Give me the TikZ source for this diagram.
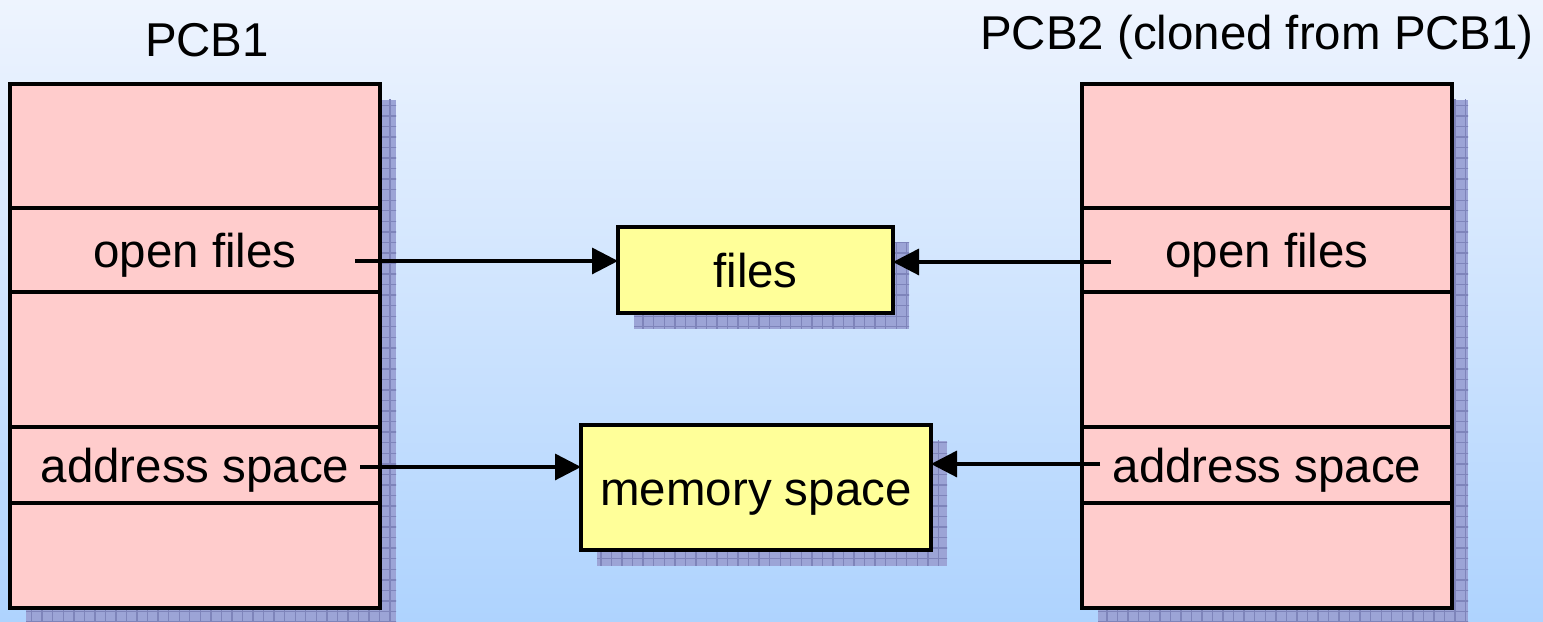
\documentclass[tikz,border=0pt]{standalone}
\usepackage{fontspec}
\setmainfont{Liberation Sans}
\usepackage{xcolor}
\usetikzlibrary{arrows.meta,calc,patterns,positioning}
\definecolor{pcbpink}{HTML}{FFCCCC}
\definecolor{boxyellow}{HTML}{FFFF99}
\definecolor{shadeblue}{RGB}{156,164,214}
\definecolor{gridblue}{RGB}{126,132,186}
\definecolor{bgtop}{RGB}{238,244,254}
\definecolor{bgbottom}{RGB}{174,211,254}
\pgfdeclarelayer{bg}
\pgfdeclarelayer{shadow}
\pgfsetlayers{bg,shadow,main}

\begin{document}
\begin{tikzpicture}[font=\fontsize{13.5}{16}\selectfont,
    pcbrow/.style={draw,fill=pcbpink,line width=1.05pt,minimum width=3.7cm,inner sep=0pt,outer sep=0pt,text height=11pt,text depth=1pt},
    kbox/.style={draw,fill=boxyellow,line width=1.05pt,inner sep=0pt,outer sep=0pt,text height=11pt,text depth=1pt},
    shadowbox/.style={fill=shadeblue,postaction={pattern=grid,pattern color=gridblue}},
    link/.style={-{Triangle[length=0.26cm,width=0.26cm]},line width=0.95pt}]
        \useasboundingbox (0,0) rectangle (15.43,6.22);
        \begin{pgfonlayer}{bg}
        \shade[top color=bgtop,bottom color=bgbottom] (0,0) rectangle (15.43,6.22);
        \end{pgfonlayer}
        \node[pcbrow,minimum height=1.24cm,anchor=north west] (pa1) at (0.10,5.38) {};
        \node[pcbrow,minimum height=0.84cm,below=0pt of pa1] (pa2) {open files};
        \node[pcbrow,minimum height=1.35cm,below=0pt of pa2] (pa3) {};
        \node[pcbrow,minimum height=0.76cm,below=0pt of pa3] (pa4) {address space};
        \node[pcbrow,minimum height=1.05cm,below=0pt of pa4] (pa5) {};
        \node[pcbrow,minimum height=1.24cm,anchor=north west] (pb1) at (10.82,5.38) {};
        \node[pcbrow,minimum height=0.84cm,below=0pt of pb1] (pb2) {open files};
        \node[pcbrow,minimum height=1.35cm,below=0pt of pb2] (pb3) {};
        \node[pcbrow,minimum height=0.76cm,below=0pt of pb3] (pb4) {address space};
        \node[pcbrow,minimum height=1.05cm,below=0pt of pb4] (pb5) {};
        \node[anchor=base] (ta) at ($(pa1.north)+(0.12,0.27)$) {PCB1};
        \node[anchor=base] (tb) at ($(pb1.north)+(-0.10,0.34)$) {PCB2 (cloned from PCB1)};
        \node[kbox,minimum width=2.75cm,minimum height=0.86cm] (files) at (7.555,3.52) {files};
        \node[kbox,minimum width=3.5cm,minimum height=1.25cm] (mem) at (7.56,1.345) {memory space};
        \begin{pgfonlayer}{shadow}
        \fill[shadowbox] ($(pa1.north west)+(0.16,-0.16)$) rectangle ($(pa5.south east)+(0.16,-0.16)$);
        \fill[shadowbox] ($(pb1.north west)+(0.16,-0.16)$) rectangle ($(pb5.south east)+(0.16,-0.16)$);
        \fill[shadowbox] ($(files.north west)+(0.16,-0.16)$) rectangle ($(files.south east)+(0.16,-0.16)$);
        \fill[shadowbox] ($(mem.north west)+(0.16,-0.16)$) rectangle ($(mem.south east)+(0.16,-0.16)$);
        \end{pgfonlayer}
        \coordinate (ofA) at ($(pa2.east)+(-0.25,-0.11)$);
        \coordinate (ofB) at ($(pb2.west)+(0.29,-0.12)$);
        \coordinate (asA) at ($(pa4.east)+(-0.20,-0.02)$);
        \coordinate (asB) at ($(pb4.west)+(0.18,0.01)$);
        \draw[link] (ofA) -- (ofA -| files.west);
        \draw[link] (ofB) -- (ofB -| files.east);
        \draw[link] (asA) -- (asA -| mem.west);
        \draw[link] (asB) -- (asB -| mem.east);
\end{tikzpicture}
\end{document}
